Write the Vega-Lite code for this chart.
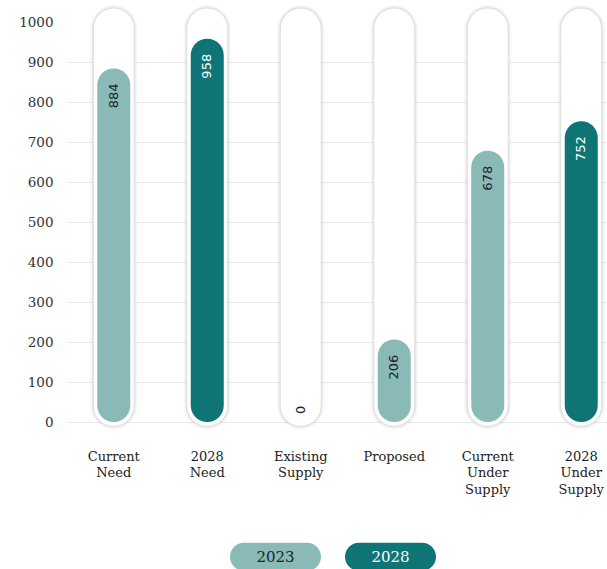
{
  "$schema": "https://vega.github.io/schema/vega-lite/v6.json",
  "autosize": {"type": "none"},
  "padding": {"left": 67, "top": 22, "right": 0, "bottom": 147},
  "width": 561,
  "height": 400,
  "background": "white",
  "config": {
    "view": {"stroke": null},
    "axisY": {
      "title": null, "domain": false, "ticks": false, "tickCount": 10,
      "format": "d", "labelOverlap": false, "grid": true,
      "labelFont": "DejaVu Serif", "labelFontSize": 13.5, "labelColor": "#333", "labelPadding": 14,
      "gridColor": "#e9e9e9"
    }
  },
  "data": {"values": [
    {"category": "Current Need", "value": 884, "year": "2023"},
    {"category": "2028 Need", "value": 958, "year": "2028"},
    {"category": "Existing Supply", "value": 0, "year": "2023"},
    {"category": "Proposed", "value": 206, "year": "2023"},
    {"category": "Current Under Supply", "value": 678, "year": "2023"},
    {"category": "2028 Under Supply", "value": 752, "year": "2028"}
  ]},
  "encoding": {
    "x": {
      "field": "category", "type": "nominal", "sort": null,
      "scale": {"paddingInner": 0, "paddingOuter": 0},
      "axis": {
        "title": null, "labelAngle": 0, "domain": false, "ticks": false,
        "labelPadding": 38, "labelFont": "DejaVu Serif", "labelFontSize": 13,
        "labelColor": "#222", "labelLineHeight": 16.5, "labelBaseline": "alphabetic",
        "labelExpr": "split(datum.label, ' ')", "labelLimit": 0
      }
    }
  },
  "layer": [
    {
      "mark": {"type": "bar", "width": 41, "cornerRadius": 20.5, "fill": "white", "stroke": "#000", "strokeOpacity": 0.03, "strokeWidth": 6},
      "encoding": {
        "y": {"datum": 1035, "type": "quantitative", "scale": {"domain": [0, 1000], "nice": false},
          "axis": {"title": null, "tickCount": 10, "labelOverlap": false, "gridColor": {"condition": {"test": "datum.value == 1000", "value": "#ffffff"}, "value": "#e9e9e9"}}},
        "y2": {"datum": -11}
      }
    },
    {
      "mark": {"type": "bar", "width": 41, "cornerRadius": 20.5, "fill": "white", "stroke": "#000", "strokeOpacity": 0.05, "strokeWidth": 3},
      "encoding": {"y": {"datum": 1035, "type": "quantitative"}, "y2": {"datum": -11}}
    },
    {
      "mark": {"type": "bar", "width": 41, "cornerRadius": 20.5, "fill": "white", "stroke": "#dddddd", "strokeWidth": 1},
      "encoding": {"y": {"datum": 1035, "type": "quantitative"}, "y2": {"datum": -11}}
    },
    {
      "mark": {"type": "bar", "width": 33, "cornerRadius": 16.5},
      "encoding": {
        "y": {"field": "value", "type": "quantitative", "axis": {"title": null, "tickCount": 10, "labelOverlap": false}},
        "y2": {"datum": 0},
        "color": {
          "field": "year", "type": "nominal",
          "scale": {"domain": ["2023", "2028"], "range": ["#89BAB7", "#0E7475"]},
          "legend": {
            "orient": "none", "legendX": 163, "legendY": 489, "direction": "horizontal",
            "title": null, "padding": 0,
            "symbolType": "M-0.6923,-0.3077 L0.6923,-0.3077 A0.3077,0.3077 0 0 1 0.6923,0.3077 L-0.6923,0.3077 A0.3077,0.3077 0 0 1 -0.6923,-0.3077 Z",
            "symbolSize": 8281, "symbolStrokeWidth": 0, "symbolOpacity": 1,
            "labelOffset": -45.5, "labelAlign": "center", "labelFont": "DejaVu Serif", "labelFontSize": 15,
            "columnPadding": 24, "labelLimit": 0,
            "encode": {"labels": {"update": {"fill": {"signal": "datum.label === '2028' ? '#ffffff' : '#222222'"}}}}
          }
        }
      }
    },
    {
      "transform": [{"filter": "datum.value != 0"}],
      "mark": {"type": "text", "angle": 270, "align": "right", "baseline": "middle", "yOffset": 15, "font": "DejaVu Sans", "fontSize": 13},
      "encoding": {
        "y": {"field": "value", "type": "quantitative", "axis": {"title": null, "tickCount": 10, "labelOverlap": false}},
        "text": {"field": "value", "type": "quantitative"},
        "color": {"condition": {"test": "datum.year == '2028'", "value": "#ffffff"}, "value": "#222222"}
      }
    },
    {
      "transform": [{"filter": "datum.value == 0"}],
      "mark": {"type": "text", "angle": 270, "align": "left", "baseline": "middle", "yOffset": -8, "font": "DejaVu Sans", "fontSize": 13, "color": "#222222"},
      "encoding": {
        "y": {"field": "value", "type": "quantitative", "axis": {"title": null, "tickCount": 10, "labelOverlap": false}},
        "text": {"field": "value", "type": "quantitative"}
      }
    }
  ]
}
